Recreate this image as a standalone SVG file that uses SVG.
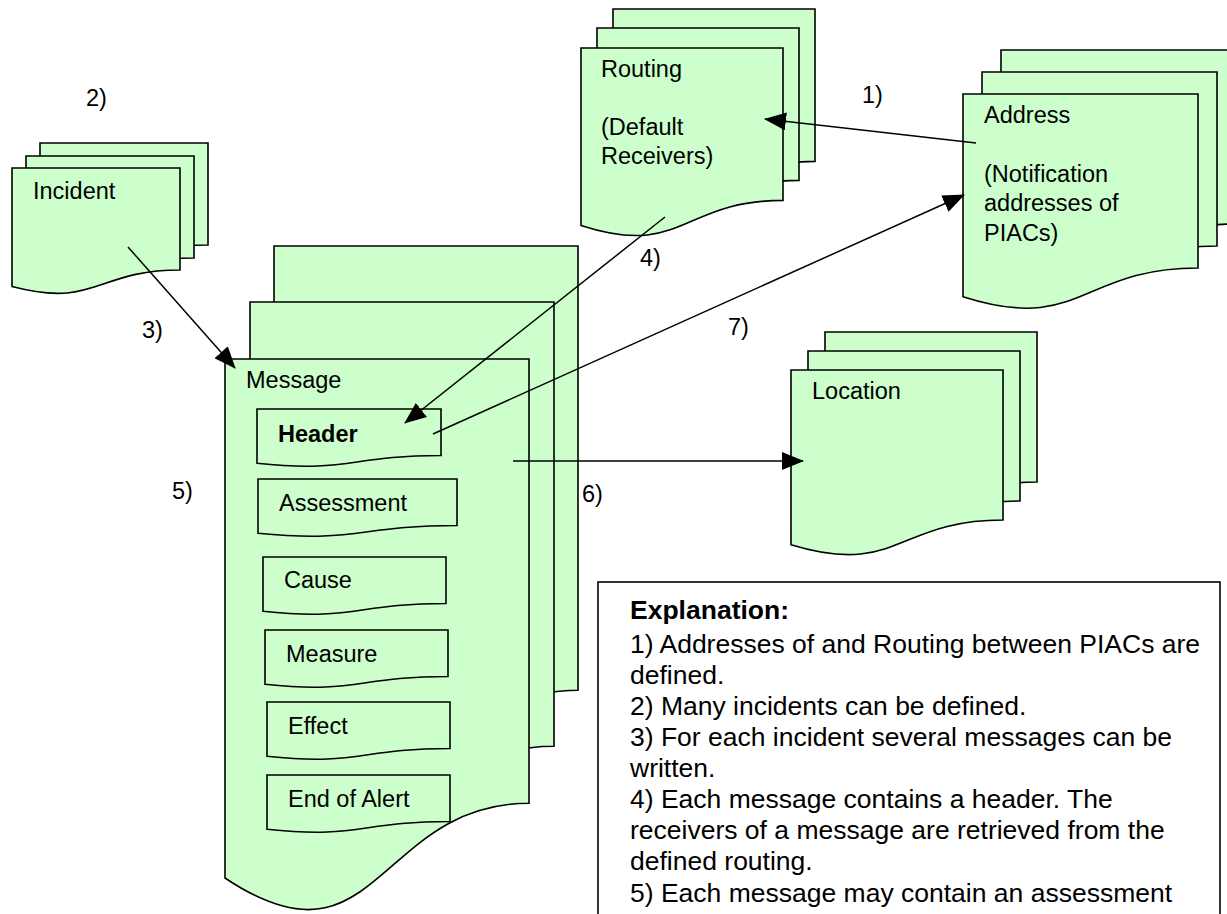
<svg xmlns="http://www.w3.org/2000/svg" width="1227" height="914" viewBox="0 0 1227 914">
<style>
.doc{fill:#CCFFCC;stroke:#000;stroke-width:1.6}
.lbl{font-family:"Liberation Sans",Arial,sans-serif;font-size:23.5px;fill:#000}
.b{font-weight:bold}
.exp{font-family:"Liberation Sans",Arial,sans-serif;font-size:26.5px;fill:#000}
.con{stroke:#000;stroke-width:1.5;fill:none;marker-end:url(#ah)}
</style>
<defs>
<marker id="ah" viewBox="0 0 22 18" markerWidth="22" markerHeight="18" refX="21" refY="9" orient="auto" markerUnits="userSpaceOnUse">
<path d="M0,0 L22,9 L0,18 Z" fill="#000"/>
</marker>
</defs>
<rect width="1227" height="914" fill="#fff"/>

<g id="incident">
<path class="doc" d="M40,143 H208 V245 C124,245 124,283.7 40,261.6 Z"/>
<path class="doc" d="M26,156 H194 V258 C110,258 110,296.7 26,274.6 Z"/>
<path class="doc" d="M12,168 H180 V270 C96,270 96,308.7 12,286.6 Z"/>
<text class="lbl" x="33" y="199">Incident</text>
</g>

<g id="routing">
<path class="doc" d="M613,9 H815 V161.4 C714,161.4 714,219.4 613,186.5 Z"/>
<path class="doc" d="M597,28 H799 V180.4 C698,180.4 698,238.4 597,205.5 Z"/>
<path class="doc" d="M581,48 H783 V200.4 C682,200.4 682,258.4 581,225.5 Z"/>
<text class="lbl" x="601" y="77">Routing</text>
<text class="lbl" x="601" y="135">(Default</text>
<text class="lbl" x="601" y="164">Receivers)</text>
</g>

<g id="address">
<path class="doc" d="M1001,50 H1236 V224 C1118.5,224 1118.5,290.3 1001,252.7 Z"/>
<path class="doc" d="M982,72 H1217 V246 C1099.5,246 1099.5,312.3 982,274.7 Z"/>
<path class="doc" d="M963,94 H1198 V268 C1080.5,268 1080.5,334.3 963,296.7 Z"/>
<text class="lbl" x="984" y="123">Address</text>
<text class="lbl" x="984" y="182">(Notification</text>
<text class="lbl" x="984" y="211">addresses of</text>
<text class="lbl" x="984" y="241">PIACs)</text>
</g>

<g id="location">
<path class="doc" d="M825,332 H1037 V482 C931,482 931,539.1 825,506.7 Z"/>
<path class="doc" d="M808,351 H1020 V501 C914,501 914,558.1 808,525.7 Z"/>
<path class="doc" d="M791,370 H1003 V520 C897,520 897,577.1 791,544.7 Z"/>
<text class="lbl" x="812" y="399">Location</text>
</g>

<g id="message">
<path class="doc" d="M274,246 H578 V690.3 C426,690.3 426,859.6 274,763.4 Z"/>
<path class="doc" d="M250,302 H554 V746.3 C402,746.3 402,915.6 250,819.4 Z"/>
<path class="doc" d="M225,359 H529 V803.3 C377,803.3 377,980 225,878 Z"/>
<text class="lbl" x="246" y="388">Message</text>
</g>

<g id="header">
<path class="doc" d="M257,409 H441 V455.5 C349,455.5 349,473.2 257,463.2 Z"/>
<text class="lbl b" x="278" y="442">Header</text>
</g>
<g id="assessment">
<path class="doc" d="M258,479 H457 V525.5 C357.5,525.5 357.5,543.2 258,533.2 Z"/>
<text class="lbl" x="279" y="511">Assessment</text>
</g>
<g id="cause">
<path class="doc" d="M263,557 H446 V603.5 C354.5,603.5 354.5,621.2 263,611.2 Z"/>
<text class="lbl" x="284" y="588">Cause</text>
</g>
<g id="measure">
<path class="doc" d="M265,630 H448 V676.5 C356.5,676.5 356.5,694.2 265,684.2 Z"/>
<text class="lbl" x="286" y="662">Measure</text>
</g>
<g id="effect">
<path class="doc" d="M267,702 H450 V748.5 C358.5,748.5 358.5,766.2 267,756.2 Z"/>
<text class="lbl" x="288" y="734">Effect</text>
</g>
<g id="endofalert">
<path class="doc" d="M267,775 H450 V821.5 C358.5,821.5 358.5,839.2 267,829.2 Z"/>
<text class="lbl" x="288" y="807">End of Alert</text>
</g>

<g id="connectors">
<line class="con" x1="976" y1="143" x2="765" y2="119"/>
<line class="con" x1="128" y1="247" x2="235" y2="368"/>
<line class="con" x1="665" y1="217" x2="405" y2="423"/>
<line class="con" x1="433" y1="434" x2="964" y2="195"/>
<line class="con" x1="513" y1="461" x2="803" y2="461"/>
</g>

<g id="labels">
<text class="lbl" x="862" y="103">1)</text>
<text class="lbl" x="86" y="106">2)</text>
<text class="lbl" x="142" y="338">3)</text>
<text class="lbl" x="640" y="266">4)</text>
<text class="lbl" x="172" y="499">5)</text>
<text class="lbl" x="582" y="502">6)</text>
<text class="lbl" x="728" y="335">7)</text>
</g>

<g id="explanation">
<rect x="598" y="582" width="622" height="360" fill="#fff" stroke="#000" stroke-width="1.6"/>
<text class="exp b" x="630" y="619">Explanation:</text>
<text class="exp" x="630" y="653">1) Addresses of and Routing between PIACs are</text>
<text class="exp" x="630" y="684">defined.</text>
<text class="exp" x="630" y="715">2) Many incidents can be defined.</text>
<text class="exp" x="630" y="746">3) For each incident several messages can be</text>
<text class="exp" x="630" y="777">written.</text>
<text class="exp" x="630" y="808">4) Each message contains a header. The</text>
<text class="exp" x="630" y="839">receivers of a message are retrieved from the</text>
<text class="exp" x="630" y="870">defined routing.</text>
<text class="exp" x="630" y="902">5) Each message may contain an assessment</text>
</g>
</svg>
